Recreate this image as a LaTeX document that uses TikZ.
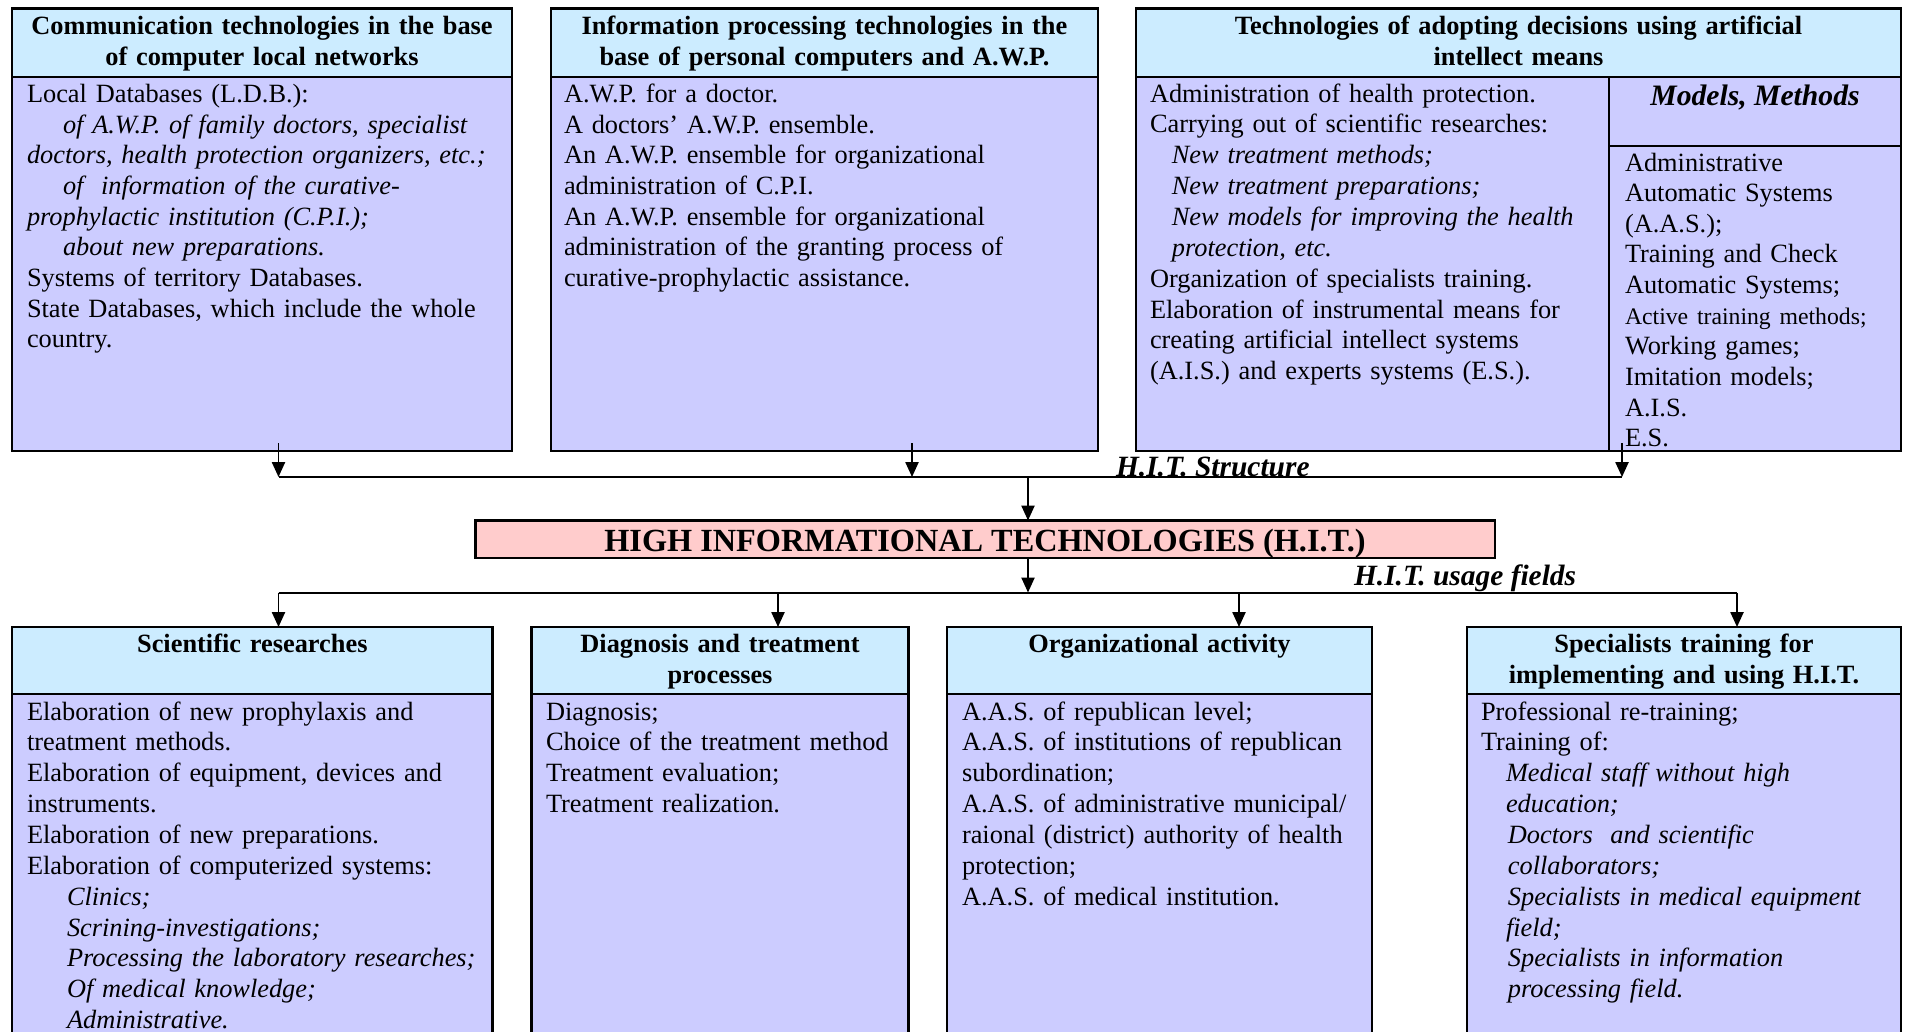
\documentclass[tikz,border=0pt]{standalone}
\usepackage{fontspec}
\setmainfont{Liberation Serif}
\usetikzlibrary{positioning}
\usetikzlibrary{arrows.meta}
\definecolor{headblue}{RGB}{204,236,255}
\definecolor{bodyblue}{RGB}{204,204,255}
\definecolor{hitpink}{RGB}{255,204,204}
\newcommand{\pxu}{0.16mm}

\begin{document}
\begin{tikzpicture}[x=0.16mm,y=-0.16mm,every node/.style={outer sep=0pt,inner sep=0pt},
		head/.style={draw,line width=1.2pt,fill=headblue,anchor=north west},
		body/.style={draw,line width=1.2pt,fill=bodyblue},
		htxt/.style={anchor=base,align=center,text width=12cm,
		font=\fontsize{12}{13.95}\selectfont\bfseries},
		btxt/.style={anchor=base west,align=left,text width=12cm,
		font=\fontsize{12}{13.95}\selectfont},
		conn/.style={line width=0.9pt,-{Triangle[length=2.4mm,width=2.1mm]}},
		lbl/.style={anchor=base west,font=\fontsize{13.4}{15}\selectfont\bfseries\itshape},
		]
		\useasboundingbox (0,0) rectangle (1907,1031);
		\clip (0,0) rectangle (1907,1031);

		% H.I.T. structure
		\node[head,minimum width=500*\pxu,minimum height=68.5*\pxu] (h1) at (12,8.5) {};
		\node[body,minimum width=500*\pxu,minimum height=374*\pxu,below=0pt of h1] (b1) {};
		\node[head,minimum width=547*\pxu,minimum height=68.5*\pxu] (h2) at (551,8.5) {};
		\node[body,minimum width=547*\pxu,minimum height=374*\pxu,below=0pt of h2] (b2) {};
		\node[head,minimum width=765*\pxu,minimum height=68.5*\pxu] (h3) at (1136,8.5) {};
		\node[body,minimum width=473*\pxu,minimum height=374*\pxu,
		below right=0pt and 0pt of h3.south west] (b3) {};
		\node[body,minimum width=292*\pxu,minimum height=69*\pxu,
		below right=0pt and 0pt of b3.north east] (mcell) {};
		\node[body,minimum width=292*\pxu,minimum height=305*\pxu,below=0pt of mcell] (mlist) {};

		\node[htxt] (h1t) at (262,34.5) {Communication technologies in the base\\of computer local networks};
		\node[htxt] (h2t) at (824.5,34.5) {Information processing technologies in the\\base of personal computers and A.W.P.};
		\node[htxt] (h3t) at (1518.5,34.5) {Technologies of adopting decisions using artificial\\intellect means};

		\node[btxt] (b1t) at (27,102.5) {Local Databases (L.D.B.):\\
			\hspace*{5.76mm}\textit{of A.W.P. of family doctors, specialist}\\
			\textit{doctors, health protection organizers, etc.;}\\
			\hspace*{5.76mm}\textit{of\ \ information of the curative-}\\
			\textit{prophylactic institution (C.P.I.);}\\
			\hspace*{5.76mm}\textit{about new preparations.}\\
			Systems of territory Databases.\\
			State Databases, which include the whole\\
			country.};
		\node[btxt] (b2t) at (564,102.5) {A.W.P. for a doctor.\\
			A doctors' A.W.P. ensemble.\\
			An A.W.P. ensemble for organizational\\
			administration of C.P.I.\\
			An A.W.P. ensemble for organizational\\
			administration of the granting process of\\
			curative-prophylactic assistance.};
		\node[btxt,font=\fontsize{12}{14.05}\selectfont] (b3t) at (1150,102) {Administration of health protection.\\
			Carrying out of scientific researches:\\
			\hspace*{3.5mm}\textit{New treatment methods;}\\
			\hspace*{3.5mm}\textit{New treatment preparations;}\\
			\hspace*{3.5mm}\textit{New models for improving the health}\\
			\hspace*{3.5mm}\textit{protection, etc.}\\
			Organization of specialists training.\\
			Elaboration of instrumental means for\\
			creating artificial intellect systems\\
			(A.I.S.) and experts systems (E.S.).};
		\node[anchor=base,font=\fontsize{13.5}{15}\selectfont\bfseries\itshape] (mcellt) at (1755,105.5) {Models, Methods};
		\node[btxt] (mlistt) at (1625,171) {Administrative\\
			Automatic Systems\\
			(A.A.S.);\\
			Training and Check\\
			Automatic Systems;\\
			{\fontsize{10.8}{13.95}\selectfont Active training methods;}\\
			Working games;\\
			Imitation models;\\
			A.I.S.\\
			E.S.};

		% bus to the H.I.T. box
		\coordinate (s1) at (278.5,477);
		\coordinate (s2) at (912,477);
		\coordinate (s3) at (1622,477);
		\coordinate (sc) at (1028,477);
		\draw[conn] (b1.south -| s1) ++(0,-8) -- (s1);
		\draw[conn] (b2.south -| s2) ++(0,-8) -- (s2);
		\draw[conn] (mlist.south -| s3) ++(0,-8) -- (s3);
		\draw[line width=0.9pt] (s1) -- (s3);
		\node[lbl] (lstruct) at (1116,476) {H.I.T. Structure};

		\node[draw,line width=1.2pt,fill=hitpink,anchor=north west,minimum width=1019.5*\pxu,
		minimum height=37.5*\pxu] (hit) at (475.5,520.5) {};
		\node[anchor=base,font=\fontsize{14.7}{16}\selectfont\bfseries] (hitt) at (985,551)
		{HIGH INFORMATIONAL TECHNOLOGIES (H.I.T.)};
		\draw[conn] (sc) -- (sc |- hit.north);

		% H.I.T. usage fields
		\node[head,minimum width=480.6*\pxu,minimum height=67*\pxu] (hA) at (12,627) {};
		\node[body,minimum width=480.6*\pxu,minimum height=390*\pxu,below=0pt of hA] (bA) {};
		\node[head,minimum width=377*\pxu,minimum height=67*\pxu] (hB) at (531.5,627) {};
		\node[body,minimum width=377*\pxu,minimum height=390*\pxu,below=0pt of hB] (bB) {};
		\node[head,minimum width=425*\pxu,minimum height=67*\pxu] (hC) at (947,627) {};
		\node[body,minimum width=425*\pxu,minimum height=390*\pxu,below=0pt of hC] (bC) {};
		\node[head,minimum width=434*\pxu,minimum height=67*\pxu] (hD) at (1467,627) {};
		\node[body,minimum width=434*\pxu,minimum height=390*\pxu,below=0pt of hD] (bD) {};

		\coordinate (t1) at (278.5,592.5);
		\coordinate (t2) at (778,592.5);
		\coordinate (t3) at (1239,592.5);
		\coordinate (t4) at (1737,592.5);
		\draw[conn] (hit.south -| sc) -- (sc |- t1);
		\draw[line width=0.9pt] (t1) -- (t4);
		\draw[conn] (t1) -- (t1 |- hA.north);
		\draw[conn] (t2) -- (t2 |- hB.north);
		\draw[conn] (t3) -- (t3 |- hC.north);
		\draw[conn] (t4) -- (t4 |- hD.north);
		\node[lbl] (lusage) at (1354,585) {H.I.T. usage fields};

		\node[htxt] (hAt) at (252.3,652.5) {Scientific researches};
		\node[htxt] (hBt) at (720,652.5) {Diagnosis and treatment\\processes};
		\node[htxt] (hCt) at (1159.5,652.5) {Organizational activity};
		\node[htxt] (hDt) at (1684,652.5) {Specialists training for\\implementing and using H.I.T.};

		\node[btxt,font=\fontsize{12}{14.05}\selectfont] (bAt) at (27,720) {Elaboration of new prophylaxis and\\
			treatment methods.\\
			Elaboration of equipment, devices and\\
			instruments.\\
			Elaboration of new preparations.\\
			Elaboration of computerized systems:\\
			\hspace*{6.4mm}\textit{Clinics;}\\
			\hspace*{6.4mm}\textit{Scrining-investigations;}\\
			\hspace*{6.4mm}\textit{Processing the laboratory researches;}\\
			\hspace*{6.4mm}\textit{Of medical knowledge;}\\
			\hspace*{6.4mm}\textit{Administrative.}};
		\node[btxt,font=\fontsize{12}{14.05}\selectfont] (bBt) at (546,720) {Diagnosis;\\
			Choice of the treatment method\\
			Treatment evaluation;\\
			Treatment realization.};
		\node[btxt,font=\fontsize{12}{14.05}\selectfont] (bCt) at (962,720) {A.A.S. of republican level;\\
			A.A.S. of institutions of republican\\
			subordination;\\
			A.A.S. of administrative municipal/\\
			raional (district) authority of health\\
			protection;\\
			A.A.S. of medical institution.};
		\node[btxt,font=\fontsize{12}{14.05}\selectfont] (bDt) at (1481,720) {Professional re-training;\\
			Training of:\\
			\hspace*{4mm}\textit{Medical staff without high}\\
			\hspace*{4mm}\textit{education;}\\
			\hspace*{4.3mm}\textit{Doctors\ \ and scientific}\\
			\hspace*{4.3mm}\textit{collaborators;}\\
			\hspace*{4.3mm}\textit{Specialists in medical equipment}\\
			\hspace*{4mm}\textit{field;}\\
			\hspace*{4.3mm}\textit{Specialists in information}\\
			\hspace*{4.3mm}\textit{processing field.}};
\end{tikzpicture}
\end{document}
